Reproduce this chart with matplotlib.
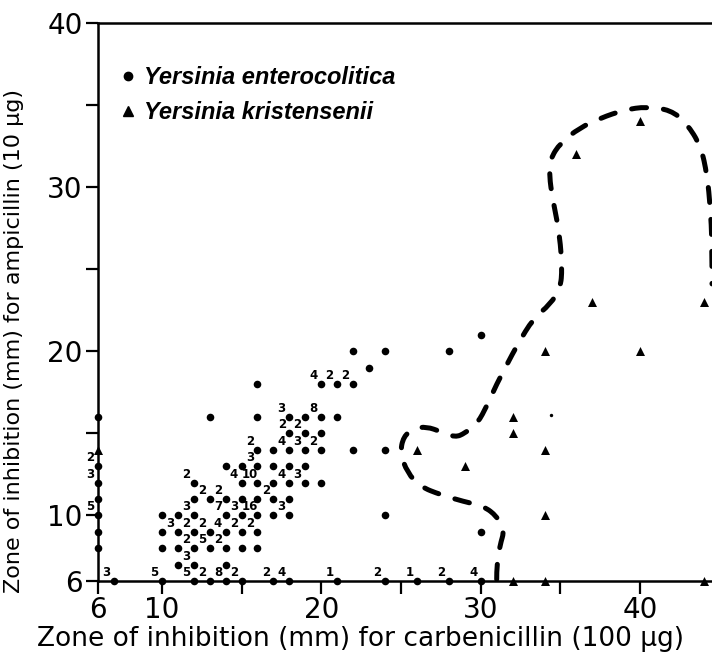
import matplotlib.pyplot as plt
from matplotlib.lines import Line2D
from matplotlib.path import Path
from matplotlib.patches import PathPatch

# Yersinia enterocolitica: zone for carbenicillin, zone for ampicillin, number of strains (0 = one)
ent_x = [6, 6, 6, 6, 6, 6, 6, 7,
         10, 10, 10, 10,
         11, 11, 11, 11,
         12, 12, 12, 12, 12, 12, 12,
         13, 13, 13, 13, 13,
         14, 14, 14, 14, 14, 14, 14,
         15, 15, 15, 15, 15, 15, 15,
         16, 16, 16, 16, 16, 16, 16, 16, 16,
         17, 17, 17, 17, 17, 17,
         18, 18, 18, 18, 18, 18, 18, 18,
         19, 19, 19, 19, 19,
         20, 20, 20, 20, 20,
         21, 21, 21,
         22, 22, 22,
         23,
         24, 24, 24, 24,
         26,
         28, 28,
         30, 30, 30]
ent_y = [16, 13, 12, 11, 10, 9, 8, 6,
         10, 9, 8, 6,
         10, 9, 8, 7,
         12, 11, 10, 9, 8, 7, 6,
         16, 11, 9, 8, 6,
         13, 11, 10, 9, 8, 7, 6,
         13, 12, 11, 10, 9, 8, 6,
         18, 16, 14, 13, 12, 11, 10, 9, 8,
         14, 13, 12, 11, 10, 6,
         16, 15, 14, 13, 12, 11, 10, 6,
         16, 15, 14, 13, 12,
         18, 16, 15, 14, 12,
         18, 16, 6,
         20, 18, 14,
         19,
         20, 14, 10, 6,
         6,
         20, 6,
         21, 9, 6]
ent_n = [0, 2, 3, 0, 5, 0, 0, 3,
         0, 0, 0, 5,
         0, 3, 0, 0,
         2, 0, 3, 2, 2, 3, 5,
         0, 2, 2, 5, 2,
         0, 2, 7, 4, 2, 0, 8,
         0, 4, 0, 3, 2, 0, 2,
         0, 0, 2, 3, 10, 0, 16, 2, 0,
         0, 0, 0, 2, 0, 2,
         3, 2, 4, 0, 4, 0, 3, 4,
         0, 2, 3, 0, 3,
         4, 8, 0, 2, 0,
         2, 0, 1,
         0, 2, 0,
         0,
         0, 0, 0, 2,
         1,
         0, 2,
         0, 0, 4]

# Yersinia kristensenii
kri_x = [6, 26, 29, 32, 32, 32, 34, 34, 34, 34, 36, 37, 40, 40, 44, 44]
kri_y = [14, 14, 13, 16, 15, 6, 20, 14, 10, 6, 32, 23, 34, 20, 23, 6]

# small stray mark in the original figure
speck_x = [34.4]
speck_y = [16.1]

# dashed boundary between the two species (traced points)
line_x = [31.0, 31.0, 31.2, 31.5, 31.0, 30.2, 28.9, 27.5, 26.2, 25.4, 24.95, 25.15,
          25.8, 26.6, 27.5, 28.4, 29.0, 29.8, 30.4, 31.0, 31.65, 32.3, 33.3, 34.35,
          35.0, 35.1, 35.0, 34.8, 34.5, 34.3, 34.35, 35.0, 36.2, 37.5, 39.0, 40.4,
          41.9, 42.9, 43.8, 44.2, 44.4, 44.5, 44.5]
line_y = [6.1, 7.0, 8.15, 9.15, 9.95, 10.55, 10.85, 11.25, 11.75, 12.6, 13.8, 14.8,
          15.3, 15.4, 15.1, 14.75, 15.0, 15.6, 16.7, 18.0, 19.2, 20.4, 22.0, 22.85,
          23.85, 25.05, 26.5, 27.9, 29.3, 30.7, 31.7, 32.7, 33.6, 34.2, 34.7, 34.9,
          34.7, 33.9, 32.5, 30.7, 28.7, 26.7, 24.1]

x_ticks = [6, 10, 20, 30, 40]
y_ticks = [6, 10, 20, 30, 40]
x_minor = [15, 25, 35]
y_minor = [15, 25, 35]

fig = plt.figure(figsize=(7.12, 6.55), dpi=100)
ax = fig.add_axes([0.1376, 0.113, 0.8624, 0.852])

# smooth the traced outline with quadratic bezier segments
pts = list(zip(line_x, line_y))
verts = [pts[0]]
codes = [Path.MOVETO]
for i in range(1, len(pts) - 1):
    if i == len(pts) - 2:
        end = pts[-1]
    else:
        end = ((pts[i][0] + pts[i + 1][0]) / 2, (pts[i][1] + pts[i + 1][1]) / 2)
    verts += [pts[i], end]
    codes += [Path.CURVE3, Path.CURVE3]
outline = PathPatch(Path(verts, codes), fill=False, edgecolor='black', lw=3.6,
                    linestyle=(0, (3, 3.4)), capstyle='round', zorder=2)
ax.add_patch(outline)

ax.scatter(ent_x, ent_y, s=30, marker='o', color='black', linewidths=0,
           clip_on=False, zorder=4)
ax.scatter(kri_x, kri_y, s=42, marker='^', color='black', linewidths=0,
           clip_on=False, zorder=4)
ax.scatter(speck_x, speck_y, s=6, marker='o', color='black', linewidths=0, zorder=4)

for x, y, n in zip(ent_x, ent_y, ent_n):
    if n:
        ax.annotate(str(n), (x, y), xytext=(-5.5, 6), textcoords='offset points',
                    ha='center', va='center', fontsize=8.5, fontweight='bold',
                    annotation_clip=False)

ax.set_xlim(6, 44.5)
ax.set_ylim(6, 40)
ax.set_xticks(x_ticks)
ax.set_yticks(y_ticks)
ax.set_xticks(x_minor, minor=True)
ax.set_yticks(y_minor, minor=True)
ax.tick_params(which='both', direction='out', length=9, width=1.6, labelsize=20, pad=2)

for side in ['left', 'bottom', 'top']:
    ax.spines[side].set_linewidth(1.8)
ax.spines['right'].set_visible(False)

ax.set_xlabel('Zone of inhibition (mm) for carbenicillin (100 µg)', fontsize=19)
ax.xaxis.set_label_coords(0.427, -0.08)
ax.set_ylabel('Zone of inhibition (mm) for ampicillin (10 µg)', fontsize=16)
ax.yaxis.set_label_coords(-0.12, 0.43)

handles = [Line2D([], [], marker='o', color='black', ls='none', markersize=6),
           Line2D([], [], marker='^', color='black', ls='none', markersize=6.5)]
ax.legend(handles, ['Yersinia enterocolitica', 'Yersinia kristensenii'],
          loc='upper left', bbox_to_anchor=(0.002, 0.96), frameon=False,
          handlelength=0.6, handletextpad=0.4, labelspacing=0.5,
          prop={'family': 'Liberation Sans', 'style': 'italic',
                'weight': 'bold', 'size': 17})

plt.savefig('out.png', dpi=100)
